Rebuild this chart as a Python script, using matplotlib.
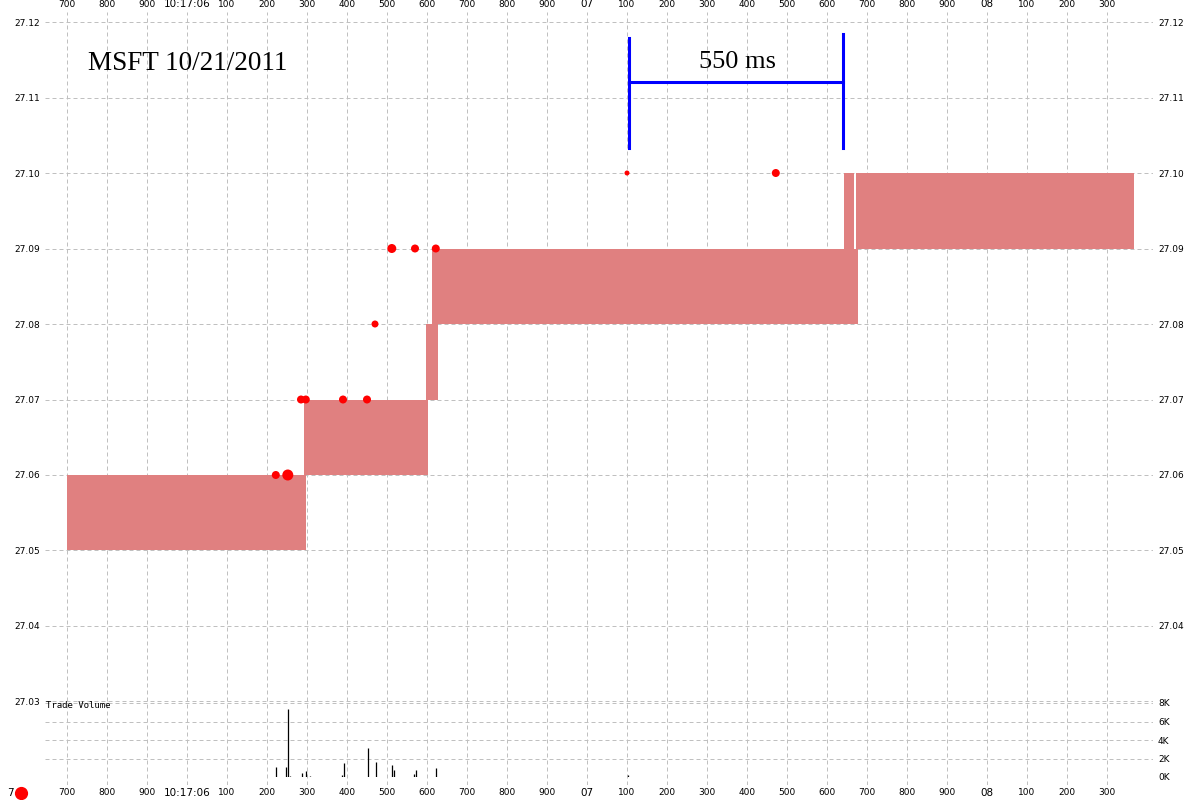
import numpy as np
import matplotlib
matplotlib.use('Agg')
import matplotlib.pyplot as plt
from matplotlib.lines import Line2D

# tiempos en ms relativos a 10:17:06.000
tick_ms = list(range(-300, 2400, 100))
tick_labels = ['700', '800', '900', '10:17:06', '100', '200', '300', '400', '500',
               '600', '700', '800', '900', '07', '100', '200', '300', '400', '500',
               '600', '700', '800', '900', '08', '100', '200', '300']

# cajas bid/ask: inicio, fin (ms), precio bajo, precio alto
box_start = [-300, 292, 597, 612, 1642, 1672]
box_end = [297, 602, 627, 1677, 1667, 2367]
box_low = [27.05, 27.06, 27.07, 27.08, 27.09, 27.09]
box_high = [27.06, 27.07, 27.08, 27.09, 27.10, 27.10]

# trades (puntos rojos)
trade_ms = [222, 252, 285, 297, 390, 450, 470, 512, 570, 622, 1100, 1472]
trade_px = [27.06, 27.06, 27.07, 27.07, 27.07, 27.07, 27.08, 27.09, 27.09, 27.09, 27.10, 27.10]
trade_diam = [8, 11, 8, 8, 8, 8, 7, 9, 8, 8, 5, 8]   # pixeles

# volumen
vol_ms = [223, 248, 253, 258, 288, 298, 308, 388, 393, 453, 473, 513, 518, 568, 573, 623, 1103]
vol_qty = [1100, 1100, 7350, 100, 430, 650, 100, 200, 1500, 3130, 1620, 1300, 760, 330, 760, 970, 200]

price_ticks = [27.03, 27.04, 27.05, 27.06, 27.07, 27.08, 27.09, 27.10, 27.11, 27.12]
vol_ticks = [0, 2000, 4000, 6000, 8000]
vol_labels = ['0K', '2K', '4K', '6K', '8K']

box_color = '#e08080'
grid_kw = dict(color='#c0c0c0', lw=0.72, ls=(0, (4, 3)))
lbl_font = dict(family='DejaVu Sans', size=6.5)

fig = plt.figure(figsize=(12, 8), dpi=100, facecolor='w')
ax = fig.add_axes([45/1200, 15/800, 1108/1200, 773/800])
ax.set_xlim(-355, 2415)
ax.set_ylim(27.01894, 27.121325)
for s in ax.spines.values():
    s.set_visible(False)

ax.set_xticks(tick_ms)
ax.set_xticklabels(tick_labels)
ax.set_yticks(price_ticks)
ax.set_yticklabels(['%.2f' % p for p in price_ticks])
ax.tick_params(axis='x', length=0, top=False, bottom=False, labeltop=True, labelbottom=True, pad=2.5)
ax.tick_params(axis='y', length=0, left=False, right=False, labelleft=True, labelright=True, pad=3.6)
for lab in ax.get_xticklabels() + ax.get_yticklabels():
    lab.set_fontfamily('DejaVu Sans')
    lab.set_fontsize(6.5)
for tk in ax.xaxis.get_major_ticks():
    if tk.label1.get_text() in ('10:17:06', '07', '08'):
        tk.label1.set_fontsize(7.5)
        tk.label2.set_fontsize(7.5)
ytk = ax.yaxis.get_major_ticks()
ytk[0].label2.set_visible(False)
for tk in ytk:
    tk.set_pad(3.6)
    tk.label2.set_x(1.0)
ax.yaxis.set_tick_params(which='major', pad=3.6)
ax.grid(True, **grid_kw)
ax.set_axisbelow(True)

for x0, x1, lo, hi in zip(box_start, box_end, box_low, box_high):
    ax.fill_between([x0, x1], lo, hi, color=box_color, lw=0, zorder=2)

sizes = [(d * 0.72) ** 2 for d in trade_diam]
ax.scatter(trade_ms, trade_px, s=sizes, color='red', lw=0, zorder=3)

# marca de 550 ms
ax.plot([1105, 1105], [27.1033, 27.1179], color='blue', lw=2.2, zorder=4)
ax.plot([1640, 1640], [27.1033, 27.1184], color='blue', lw=2.2, zorder=4)
ax.plot([1105, 1640], [27.1121, 27.1121], color='blue', lw=2.2, zorder=4)
ax.text(1377, 27.1147, '550 ms', family='Liberation Serif', fontsize=19,
        ha='center', va='center', zorder=5)
ax.text(-248, 27.1145, 'MSFT 10/21/2011', family='Liberation Serif', fontsize=19.5,
        ha='left', va='center', zorder=5)

# panel de volumen
axv = fig.add_axes([45/1200, 23/800, 1108/1200, 74/800])
axv.patch.set_alpha(0)
axv.set_xlim(ax.get_xlim())
axv.set_ylim(0, 8000)
for s in axv.spines.values():
    s.set_visible(False)
axv.set_xticks([])
axv.set_yticks(vol_ticks)
axv.set_yticklabels(vol_labels, **lbl_font)
axv.tick_params(axis='y', length=0, left=False, labelleft=False, labelright=True, pad=3.6)
axv.yaxis.grid(True, **grid_kw)
axv.vlines(vol_ms, 0, vol_qty, color='black', lw=0.9)
axv.text(0.001, 0.96, 'Trade Volume', transform=axv.transAxes, family='DejaVu Sans Mono',
         fontsize=6.5, ha='left', va='center')

# leyenda abajo a la izquierda
fig.text(7/1200, 7/800, '7', fontsize=7.5, family='DejaVu Sans', ha='left', va='center')
fig.add_artist(Line2D([21/1200], [7/800], marker='o', markersize=8.5, color='red',
                      lw=0, transform=fig.transFigure))

fig.savefig('out.png', dpi=100, facecolor='w')
